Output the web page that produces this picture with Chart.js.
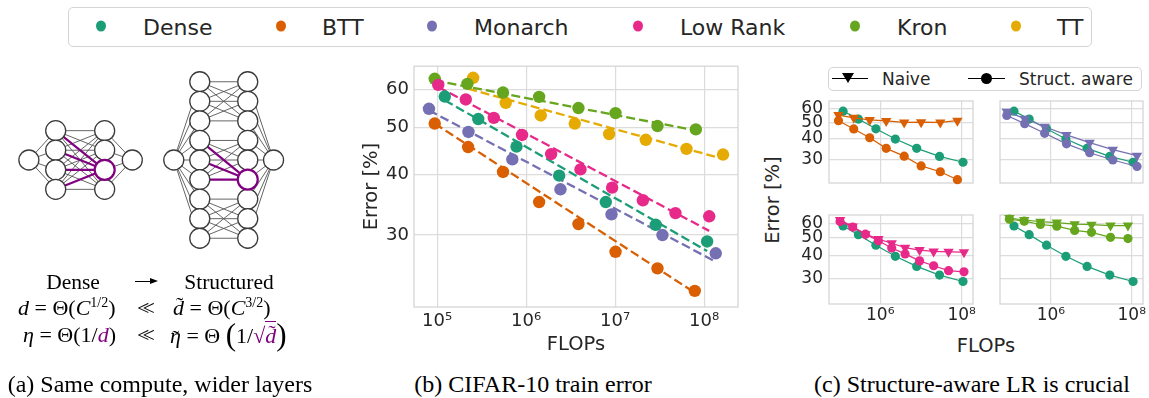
<!DOCTYPE html>
<html>
<head>
<meta charset="utf-8">
<script src="https://cdn.jsdelivr.net/npm/chart.js@4.4.1/dist/chart.umd.min.js"></script>
<style>
  body { margin: 0; width: 1149px; height: 398px; background: #fff; position: relative; overflow: hidden;
         font-family: "DejaVu Sans", sans-serif; color: #262626; }
  canvas { position: absolute; }
  .box { position: absolute; border: 1px solid #d4d4d4; border-radius: 5px; box-sizing: border-box; }
  .lg-dot { position: absolute; width: 10px; height: 11px; border-radius: 50%; transform: translate(-50%, -50%); }
  .lg-txt { position: absolute; font-size: 22px; transform: translateY(-50%); white-space: nowrap; }
  .c { position: absolute; transform: translate(-50%, -50%); white-space: nowrap; }
  .serif { font-family: "Liberation Serif", "DejaVu Serif", serif; color: #000; }
  .m { position: absolute; transform: translateY(-50%); white-space: nowrap; font-family: "Liberation Serif", serif; font-size: 22px; color: #000; }
  .m sup { font-size: 14px; vertical-align: 8px; line-height: 0; }
  .ll { letter-spacing: -7px; padding-right: 7px; }
  .tl { position: relative; display: inline-block; }
  .tl .t { position: absolute; left: 3px; top: -3px; font-style: normal; }
  .tl .tx { top: 2px; left: 2px; }
  .purple { color: #800080; }
  .cap { position: absolute; transform: translate(-50%, -50%); white-space: nowrap; font-family: "Liberation Serif", serif; font-size: 24px; color: #000; }
</style>
</head>
<body>

<!-- top legend -->
<div class="box" style="left:68px;top:7px;width:1024px;height:40px"></div>
<div id="topLegend"></div>

<!-- (a) diagram -->
<canvas id="netChart" width="320" height="220" style="left:0;top:50px"></canvas>
<div class="c serif" style="left:73px;top:282px;font-size:21.5px">Dense</div>
<div style="position:absolute;left:135px;top:281px;width:16px;height:1.3px;background:#000"></div>
<div style="position:absolute;left:150px;top:278px;width:0;height:0;border-top:3.5px solid transparent;border-bottom:3.5px solid transparent;border-left:8px solid #000"></div>
<div class="c serif" style="left:229px;top:282px;font-size:21.5px">Structured</div>

<div class="m" style="left:18px;top:308px"><i>d</i> = Θ(<i>C</i><sup>1/2</sup>)</div>
<div class="m" style="left:137px;top:308px"><span class="ll">&lt;&lt;</span></div>
<div class="m" style="left:173px;top:308px"><span class="tl"><i>d</i><span class="t">˜</span></span> = Θ(<i>C</i><sup>3/2</sup>)</div>
<div class="m" style="left:23px;top:335px"><i>η</i> = Θ(1/<i class="purple">d</i>)</div>
<div class="m" style="left:137px;top:335px"><span class="ll">&lt;&lt;</span></div>
<div class="m" style="left:170px;top:335px"><span class="tl"><i>η</i><span class="t tx">˜</span></span> = Θ <span style="font-size:31px;vertical-align:-2px">(</span>1/<span class="purple">√<span class="tl" style="border-top:1.2px solid #800080;padding-top:1px"><i>d</i><span class="t" style="top:-2px">˜</span></span></span><span style="font-size:31px;vertical-align:-2px">)</span></div>

<!-- (b) -->
<canvas id="mainChart" width="390" height="300" style="left:360px;top:60px"></canvas>

<!-- (c) -->
<div class="box" style="left:828px;top:67px;width:314px;height:24px"></div>
<div style="position:absolute;left:832px;top:78px;width:36px;height:1.3px;background:#000"></div>
<div style="position:absolute;left:842px;top:73px;width:0;height:0;border-left:6px solid transparent;border-right:6px solid transparent;border-top:10px solid #000"></div>
<div style="position:absolute;left:882px;top:79px;transform:translateY(-50%);font-size:17px">Naive</div>
<div style="position:absolute;left:968px;top:78px;width:37px;height:1.3px;background:#000"></div>
<div style="position:absolute;left:981px;top:73px;width:11px;height:11px;border-radius:50%;background:#000"></div>
<div style="position:absolute;left:1019px;top:79px;transform:translateY(-50%);font-size:17px">Struct. aware</div>

<canvas id="cTL" width="190" height="94" style="left:790px;top:95px"></canvas>
<canvas id="cTR" width="159" height="94" style="left:990px;top:95px"></canvas>
<canvas id="cBL" width="190" height="117" style="left:790px;top:209px"></canvas>
<canvas id="cBR" width="159" height="117" style="left:990px;top:209px"></canvas>
<div class="c" style="left:772px;top:200px;font-size:19.5px;transform:translate(-50%,-50%) rotate(-90deg)">Error [%]</div>
<div class="c" style="left:986px;top:345px;font-size:19.5px">FLOPs</div>

<!-- captions -->
<div class="cap" style="left:160px;top:384px">(a) Same compute, wider layers</div>
<div class="cap" style="left:533px;top:384px">(b) CIFAR-10 train error</div>
<div class="cap" style="left:972px;top:384px">(c) Structure-aware LR is crucial</div>

<script>
// ---- data ----
const methodNames = ['Dense', 'BTT', 'Monarch', 'Low Rank', 'Kron', 'TT'];
const methodColors = ['#1b9e77', '#d95f02', '#7570b3', '#e7298a', '#66a61e', '#e6ab02'];

// structure-aware runs (panel b, and circles in panel c)
const denseFlops = [1.22e5, 2.9e5, 7.8e5, 2.35e6, 7.85e6, 2.86e7, 1.08e8];
const denseErr = [58.0, 52.1, 45.7, 39.8, 35.1, 31.5, 29.1];
const bttFlops = [9.4e4, 2.23e5, 5.5e5, 1.4e6, 3.87e6, 1.01e7, 2.99e7, 7.85e7];
const bttErr = [51.0, 45.6, 40.5, 35.1, 31.6, 27.7, 25.6, 23.0];
const monarchFlops = [8.1e4, 2.25e5, 7.0e5, 2.43e6, 9.1e6, 3.4e7, 1.35e8];
const monarchErr = [54.7, 49.0, 43.0, 37.3, 33.1, 30.0, 27.5];
const lowRankFlops = [1.03e5, 2.1e5, 4.33e5, 9.0e5, 1.91e6, 4.08e6, 9.25e6, 2.05e7, 4.76e7, 1.14e8];
const lowRankErr = [61.3, 57.2, 52.4, 48.3, 44.1, 41.0, 37.6, 35.4, 33.3, 32.8];
const kronFlops = [9.4e4, 2.19e5, 5.5e5, 1.4e6, 3.87e6, 1.01e7, 2.99e7, 8.06e7];
const kronErr = [63.1, 61.6, 59.1, 57.9, 54.9, 53.6, 50.4, 49.6];
const ttFlops = [2.54e5, 5.9e5, 1.46e6, 3.52e6, 8.56e6, 2.21e7, 6.33e7, 1.63e8];
const ttErr = [63.4, 56.3, 53.0, 51.0, 48.5, 47.2, 45.2, 44.0];

// dashed power-law fits (end points)
const denseFitFlops = [1.22e5, 1.08e8], denseFitErr = [57.0, 27.8];
const bttFitFlops = [9.4e4, 7.85e7], bttFitErr = [51.0, 22.8];
const monarchFitFlops = [8.1e4, 1.26e8], monarchFitErr = [54.3, 26.6];
const lowRankFitFlops = [1.03e5, 1.14e8], lowRankFitErr = [60.7, 30.6];
const kronFitFlops = [9.4e4, 7.85e7], kronFitErr = [62.6, 49.4];
const ttFitFlops = [2.23e5, 1.63e8], ttFitErr = [60.2, 43.1];

// naive LR runs (triangles in panel c)
const bttNaiveErr = [55.0, 53.0, 51.5, 50.8, 49.8, 50.0, 49.8, 51.0];
const monarchNaiveErr = [57.6, 52.4, 47.0, 42.1, 37.9, 34.5, 31.8];
const lowRankNaiveErr = [62.5, 57.6, 52.4, 49.3, 46.8, 44.3, 43.0, 42.3, 42.1, 41.9];
const kronNaiveErr = [64.0, 62.5, 61.2, 60.5, 59.3, 59.0, 58.3, 58.3];

const flopsTicks = [1e5, 1e6, 1e7, 1e8];
const flopsTickLabels = ['10⁵', '10⁶', '10⁷', '10⁸'];
const smallFlopsTicks = [1e6, 1e8];
const smallFlopsTickLabels = ['10⁶', '10⁸'];
const errTicks = [30, 40, 50, 60];

// diagram: nodes per layer
const denseLayers = [1, 4, 4, 1];
const structLayers = [1, 9, 9, 1];
const structBlock = 3;

Chart.defaults.font.family = '"DejaVu Sans", sans-serif';
Chart.defaults.color = '#262626';
Chart.defaults.animation = false;

const pts = (xs, ys) => xs.map((x, i) => ({ x, y: ys[i] }));

// light grey frame round the plot area (seaborn whitegrid look)
const framePlugin = {
  id: 'frame',
  beforeDatasetsDraw(chart) {
    const { ctx, chartArea: a } = chart;
    ctx.save();
    ctx.strokeStyle = '#d2d2d2';
    ctx.lineWidth = 1.2;
    ctx.strokeRect(a.left, a.top, a.right - a.left, a.bottom - a.top);
    ctx.restore();
  }
};

// fixed axis sizes, no extra room for edge labels
const fixSize = (w, h) => s => {
  if (w !== null) s.width = w;
  if (h !== null) s.height = h;
  s.paddingTop = s.paddingBottom = s.paddingLeft = s.paddingRight = 0;
};

// top legend
const legendDotX = [101, 281, 432, 638, 855, 1016];
const legendTextX = [143, 322, 474, 680, 897, 1057];
const lg = document.getElementById('topLegend');
methodNames.forEach((name, i) => {
  lg.insertAdjacentHTML('beforeend',
    `<div class="lg-dot" style="left:${legendDotX[i]}px;top:26px;background:${methodColors[i]}"></div>` +
    `<div class="lg-txt" style="left:${legendTextX[i]}px;top:27px">${name}</div>`);
});

// ---- (a) network diagram ----
const denseLayerX = [0.82, 2.14, 4.55, 5.91];
const structLayerX = [7.95, 9.23, 11.59, 12.86];

function layerNodes(layers, layerX) {
  return layers.map((n, li) => Array.from({ length: n }, (_, i) => ({ x: layerX[li], y: (n - 1) / 2 - i })));
}
const denseNodes = layerNodes(denseLayers, denseLayerX);
const structNodes = layerNodes(structLayers, structLayerX);

const greyEdges = [], purpleEdges = [];
function edge(a, b, list) { list.push([a, b]); }
// dense net: fully connected
denseNodes[1].forEach(n => edge(denseNodes[0][0], n, greyEdges));
denseNodes[1].forEach(a => denseNodes[2].forEach((b, j) => edge(a, b, j === 2 ? purpleEdges : greyEdges)));
denseNodes[2].forEach(n => edge(n, denseNodes[3][0], greyEdges));
// structured net: block diagonal
structNodes[1].forEach(n => edge(structNodes[0][0], n, greyEdges));
structNodes[1].forEach((a, i) => structNodes[2].forEach((b, j) => {
  if (Math.floor(i / structBlock) !== Math.floor(j / structBlock)) return;
  edge(a, b, j === 5 ? purpleEdges : greyEdges);
}));
structNodes[2].forEach(n => edge(n, structNodes[3][0], greyEdges));

const allNodes = [...denseNodes.flat(), ...structNodes.flat()];
const hiNodes = [denseNodes[2][2], structNodes[2][5]];

const netDatasets = [
  { data: hiNodes, pointRadius: 10, pointBackgroundColor: '#fff', pointBorderColor: '#800080', pointBorderWidth: 2.2, showLine: false },
  { data: allNodes.filter(n => !hiNodes.includes(n)), pointRadius: 10, pointBackgroundColor: '#fff', pointBorderColor: '#3a3a3a', pointBorderWidth: 1.3, showLine: false },
  ...purpleEdges.map(([a, b]) => ({ data: [a, b], showLine: true, borderColor: '#800080', borderWidth: 2.2, pointRadius: 0 })),
  ...greyEdges.map(([a, b]) => ({ data: [a, b], showLine: true, borderColor: '#555', borderWidth: 0.9, pointRadius: 0 }))
];

new Chart(document.getElementById('netChart'), {
  type: 'scatter',
  data: { datasets: netDatasets.map(d => ({ ...d, clip: false })) },
  options: {
    responsive: false,
    layout: { padding: 0 },
    plugins: { legend: { display: false }, tooltip: { enabled: false } },
    scales: {
      x: { type: 'linear', display: false, min: 0, max: 320 / 22 },
      y: { type: 'linear', display: false, min: -5, max: 5 }
    }
  }
});

// ---- (b) CIFAR-10 train error ----
const methodData = [
  [denseFlops, denseErr, denseFitFlops, denseFitErr],
  [bttFlops, bttErr, bttFitFlops, bttFitErr],
  [monarchFlops, monarchErr, monarchFitFlops, monarchFitErr],
  [lowRankFlops, lowRankErr, lowRankFitFlops, lowRankFitErr],
  [kronFlops, kronErr, kronFitFlops, kronFitErr],
  [ttFlops, ttErr, ttFitFlops, ttFitErr]
];

const mainDatasets = [];
methodData.forEach(([fx, fy], i) => {
  mainDatasets.push({ label: methodNames[i], data: pts(fx, fy), showLine: false,
    pointRadius: 6.2, pointBackgroundColor: methodColors[i], pointBorderWidth: 0 });
});
methodData.forEach(([, , lx, ly], i) => {
  mainDatasets.push({ label: methodNames[i] + ' fit', data: pts(lx, ly), showLine: true,
    borderColor: methodColors[i], borderWidth: 2.3, borderDash: [9, 4], pointRadius: 0 });
});

const gridStyle = { color: '#dcdcdc', lineWidth: 1.2, drawTicks: false };

new Chart(document.getElementById('mainChart'), {
  type: 'scatter',
  data: { datasets: mainDatasets.map(d => ({ ...d, clip: false })) },
  options: {
    responsive: false,
    layout: { padding: { left: 0, right: 12, top: 6, bottom: 0 } },
    plugins: { legend: { display: false }, tooltip: { enabled: false } },
    scales: {
      x: {
        type: 'logarithmic', min: 5.5e4, max: 2.4e8,
        afterBuildTicks: s => { s.ticks = flopsTicks.map(v => ({ value: v })); },
        afterFit: fixSize(null, 53),
        ticks: { autoSkip: false, maxRotation: 0, padding: 4, font: { size: 18 },
          callback: v => flopsTickLabels[flopsTicks.indexOf(v)] },
        grid: gridStyle, border: { display: false },
        title: { display: true, text: 'FLOPs', font: { size: 19.5 }, padding: { top: 0, bottom: 3 } }
      },
      y: {
        type: 'logarithmic', min: 21.3, max: 67,
        afterBuildTicks: s => { s.ticks = errTicks.map(v => ({ value: v })); },
        afterFit: fixSize(54, null),
        ticks: { autoSkip: false, padding: 5, font: { size: 18 }, callback: v => String(v) },
        grid: gridStyle, border: { display: false },
        title: { display: true, text: 'Error [%]', font: { size: 19.5 }, padding: 0 }
      }
    }
  },
  plugins: [framePlugin]
});

// ---- (c) structure-aware vs naive LR ----
function smallChart(id, flops, naiveErr, awareErr, color, showX, showY) {
  const datasets = [
    { data: pts(flops, awareErr), borderColor: color, pointBackgroundColor: color, pointRadius: 4.6,
      pointBorderWidth: 0, borderWidth: 1.2, showLine: true },
    { data: pts(flops, naiveErr), borderColor: color, pointBackgroundColor: color, pointStyle: 'triangle',
      rotation: 180, pointRadius: 6, pointBorderWidth: 0, borderWidth: 1.2, showLine: true },
    { data: pts(denseFlops, denseErr), borderColor: methodColors[0], pointBackgroundColor: methodColors[0],
      pointRadius: 4.6, pointBorderWidth: 0, borderWidth: 1.2, showLine: true }
  ];
  new Chart(document.getElementById(id), {
    type: 'scatter',
    data: { datasets: datasets.map(d => ({ ...d, clip: false })) },
    options: {
      responsive: false,
      layout: { padding: { left: 0, right: showY ? 7 : 6, top: 4, bottom: 0 } },
      plugins: { legend: { display: false }, tooltip: { enabled: false } },
      scales: {
        x: {
          type: 'logarithmic', min: 5.5e4, max: 1.9e8,
          afterBuildTicks: s => { s.ticks = smallFlopsTicks.map(v => ({ value: v })); },
          afterFit: fixSize(null, showX ? 22 : 0),
          ticks: { display: showX, autoSkip: false, maxRotation: 0, padding: 1, font: { size: 17 },
            callback: v => smallFlopsTickLabels[smallFlopsTicks.indexOf(v)] },
          grid: gridStyle, border: { display: false }
        },
        y: {
          type: 'logarithmic', min: 22, max: 66.5,
          afterBuildTicks: s => { s.ticks = errTicks.map(v => ({ value: v })); },
          afterFit: fixSize(showY ? 39 : 10, null),
          ticks: { display: showY, autoSkip: false, padding: 6, font: { size: 17 }, callback: v => String(v) },
          grid: gridStyle, border: { display: false }
        }
      }
    },
    plugins: [framePlugin]
  });
}

smallChart('cTL', bttFlops, bttNaiveErr, bttErr, methodColors[1], false, true);
smallChart('cTR', monarchFlops, monarchNaiveErr, monarchErr, methodColors[2], false, false);
smallChart('cBL', lowRankFlops, lowRankNaiveErr, lowRankErr, methodColors[3], true, true);
smallChart('cBR', kronFlops, kronNaiveErr, kronErr, methodColors[4], true, false);
</script>
</body>
</html>
